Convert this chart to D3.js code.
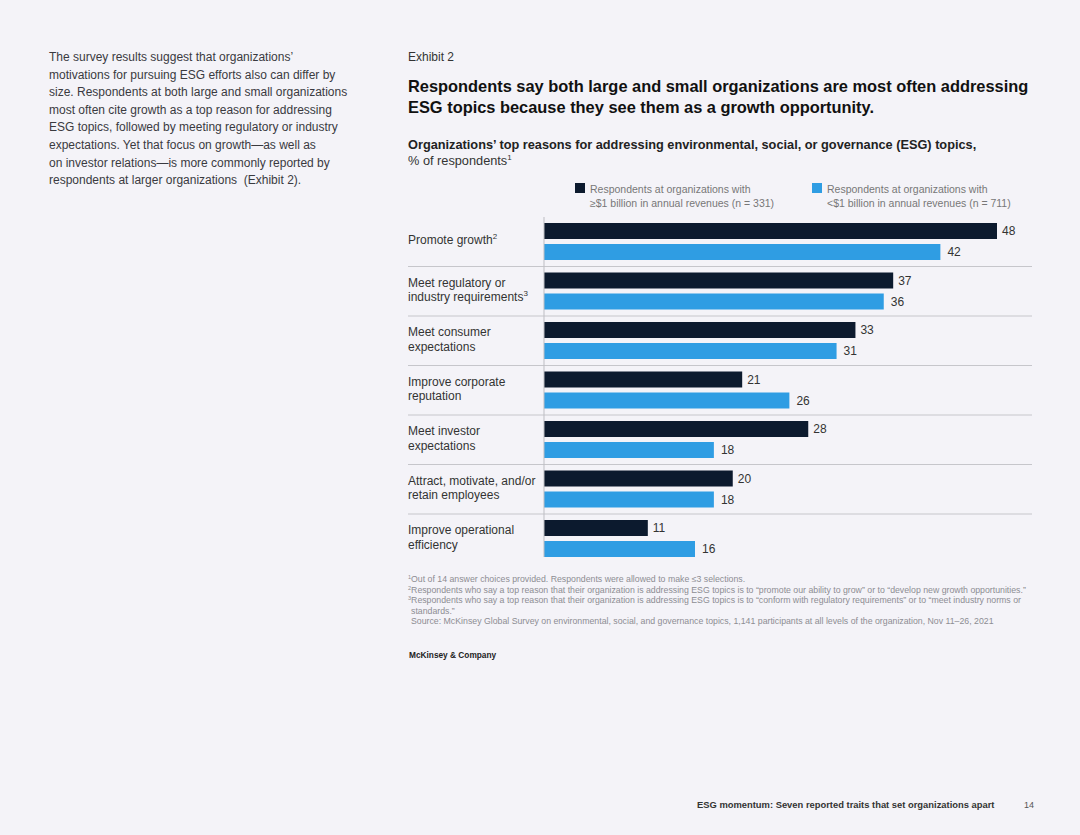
<!DOCTYPE html>
<html>
<head>
<meta charset="utf-8">
<script src="https://cdn.jsdelivr.net/npm/d3@7"></script>
<style>
  html, body { margin: 0; padding: 0; background: #f4f3f8; }
  svg { display: block; font-family: "Liberation Sans", Arial, sans-serif; }
</style>
</head>
<body>
<div id="chart"></div>
<script>
// categories (lines of each label) and their footnote markers
const categories = [
  ['Promote growth'],
  ['Meet regulatory or', 'industry requirements'],
  ['Meet consumer', 'expectations'],
  ['Improve corporate', 'reputation'],
  ['Meet investor', 'expectations'],
  ['Attract, motivate, and/or', 'retain employees'],
  ['Improve operational', 'efficiency'],
];
const catNotes = ['2', '3', null, null, null, null, null];

const largeOrgs = [48, 37, 33, 21, 28, 20, 11];
const smallOrgs = [42, 36, 31, 26, 18, 18, 16];

const seriesNames = [
  ['Respondents at organizations with', '≥$1 billion in annual revenues (n = 331)'],
  ['Respondents at organizations with', '<$1 billion in annual revenues (n = 711)'],
];

const bodyText = [
  'The survey results suggest that organizations’',
  'motivations for pursuing ESG efforts also can differ by',
  'size. Respondents at both large and small organizations',
  'most often cite growth as a top reason for addressing',
  'ESG topics, followed by meeting regulatory or industry',
  'expectations. Yet that focus on growth—as well as',
  'on investor relations—is more commonly reported by',
  'respondents at larger organizations  (Exhibit 2).',
];

// [marker, indent, text]
const footnotes = [
  ['1', 0, 'Out of 14 answer choices provided. Respondents were allowed to make ≤3 selections.'],
  ['2', 0, 'Respondents who say a top reason that their organization is addressing ESG topics is to “promote our ability to grow” or to “develop new growth opportunities.”'],
  ['3', 0, 'Respondents who say a top reason that their organization is addressing ESG topics is to “conform with regulatory requirements” or to “meet industry norms or'],
  ['', 3, 'standards.”'],
  ['', 3, 'Source: McKinsey Global Survey on environmental, social, and governance topics, 1,141 participants at all levels of the organization, Nov 11–26, 2021'],
];

const DARK = '#0c1a2e';
const BLUE = '#2f9de3';
const W = 1080, H = 835;

const svg = d3.select('#chart').append('svg')
  .attr('width', W).attr('height', H)
  .attr('viewBox', `0 0 ${W} ${H}`);

svg.append('rect').attr('width', W).attr('height', H).attr('fill', '#f4f3f8');

// left column body copy
svg.append('g').selectAll('text').data(bodyText).join('text')
  .attr('x', 49).attr('y', (d, i) => 61 + i * 17.6)
  .attr('font-size', 12).attr('fill', '#3a3a3f')
  .attr('xml:space', 'preserve')
  .text(d => d);

// header
svg.append('text').attr('x', 408).attr('y', 61)
  .attr('font-size', 12).attr('fill', '#333').text('Exhibit 2');

svg.append('g').selectAll('text')
  .data(['Respondents say both large and small organizations are most often addressing',
         'ESG topics because they see them as a growth opportunity.'])
  .join('text')
  .attr('x', 408).attr('y', (d, i) => 92 + i * 20.5)
  .attr('font-size', 16.4).attr('font-weight', 'bold').attr('fill', '#111')
  .text(d => d);

svg.append('text').attr('x', 408).attr('y', 149)
  .attr('font-size', 12.75).attr('font-weight', 'bold').attr('fill', '#222')
  .text('Organizations’ top reasons for addressing environmental, social, or governance (ESG) topics,');
const pct = svg.append('text').attr('x', 408).attr('y', 165)
  .attr('font-size', 12.75).attr('fill', '#333');
pct.append('tspan').text('% of respondents');
pct.append('tspan').attr('font-size', 8).attr('dy', -5).text('1');

// legend
const legend = svg.append('g').selectAll('g').data(seriesNames).join('g')
  .attr('transform', (d, i) => `translate(${[575, 812][i]},183)`);
legend.append('rect').attr('width', 10).attr('height', 10)
  .attr('fill', (d, i) => [DARK, BLUE][i]);
legend.selectAll('text').data(d => d).join('text')
  .attr('x', 15).attr('y', (d, i) => 10 + i * 14)
  .attr('font-size', 10.5).attr('fill', '#777')
  .text(d => d);

// scales
const x = d3.scaleLinear().domain([0, 48]).range([544, 997]);
const y = d3.scaleBand().domain(d3.range(categories.length)).range([217, 563.5]);
const barH = 16;

const g = svg.append('g');

// separators between groups
g.selectAll('line.sep').data(d3.range(categories.length - 1)).join('line')
  .attr('class', 'sep')
  .attr('x1', 408).attr('x2', 1032)
  .attr('y1', i => y(i) + y.bandwidth()).attr('y2', i => y(i) + y.bandwidth())
  .attr('stroke', '#c6c6cb').attr('stroke-width', 1);

// bars
const rows = g.selectAll('g.row').data(d3.range(categories.length)).join('g').attr('class', 'row');

rows.append('rect')
  .attr('x', x(0)).attr('y', i => y(i) + 6)
  .attr('width', i => x(largeOrgs[i]) - x(0)).attr('height', barH)
  .attr('fill', DARK);
rows.append('rect')
  .attr('x', x(0)).attr('y', i => y(i) + 27)
  .attr('width', i => x(smallOrgs[i]) - x(0)).attr('height', barH)
  .attr('fill', BLUE);

rows.append('text')
  .attr('x', i => x(largeOrgs[i]) + 5).attr('y', i => y(i) + 6 + barH / 2)
  .attr('dy', '0.35em').attr('font-size', 12).attr('fill', '#333')
  .text(i => largeOrgs[i]);
rows.append('text')
  .attr('x', i => x(smallOrgs[i]) + 7).attr('y', i => y(i) + 27 + barH / 2)
  .attr('dy', '0.35em').attr('font-size', 12).attr('fill', '#333')
  .text(i => smallOrgs[i]);

// category labels
rows.each(function (i) {
  const lines = categories[i];
  const lh = 14.5;
  const cy = y(i) + y.bandwidth() / 2 - 1.5;
  const t = d3.select(this).append('text')
    .attr('font-size', 12).attr('fill', '#333');
  lines.forEach((ln, k) => {
    t.append('tspan').attr('x', 408)
      .attr('y', cy - (lines.length - 1) * lh / 2 + k * lh)
      .attr('dy', '0.35em').text(ln);
  });
  if (catNotes[i]) {
    t.append('tspan').attr('font-size', 8).attr('dy', -5).text(catNotes[i]);
  }
});

// vertical axis line
g.append('line')
  .attr('x1', x(0)).attr('x2', x(0))
  .attr('y1', y.range()[0]).attr('y2', y(categories.length - 1) + 27 + barH)
  .attr('stroke', '#bdbdc3').attr('stroke-width', 1);

// footnotes
const fn = svg.append('g').selectAll('text').data(footnotes).join('text')
  .attr('x', d => 408 + d[1]).attr('y', (d, i) => 582 + i * 10.6)
  .attr('font-size', 8.75).attr('fill', '#8d8d93');
fn.append('tspan').attr('font-size', 5.5).attr('dy', -3).text(d => d[0]);
fn.append('tspan').attr('dy', d => d[0] ? 3 : 0).text(d => d[2]);

svg.append('text').attr('x', 409).attr('y', 658)
  .attr('font-size', 8.3).attr('font-weight', 'bold').attr('fill', '#222')
  .text('McKinsey & Company');

// page footer
svg.append('text').attr('x', 697).attr('y', 808)
  .attr('font-size', 9.4).attr('font-weight', 'bold').attr('fill', '#333')
  .text('ESG momentum: Seven reported traits that set organizations apart');
svg.append('text').attr('x', 1024).attr('y', 808)
  .attr('font-size', 9).attr('fill', '#555').text('14');
</script>
</body>
</html>
